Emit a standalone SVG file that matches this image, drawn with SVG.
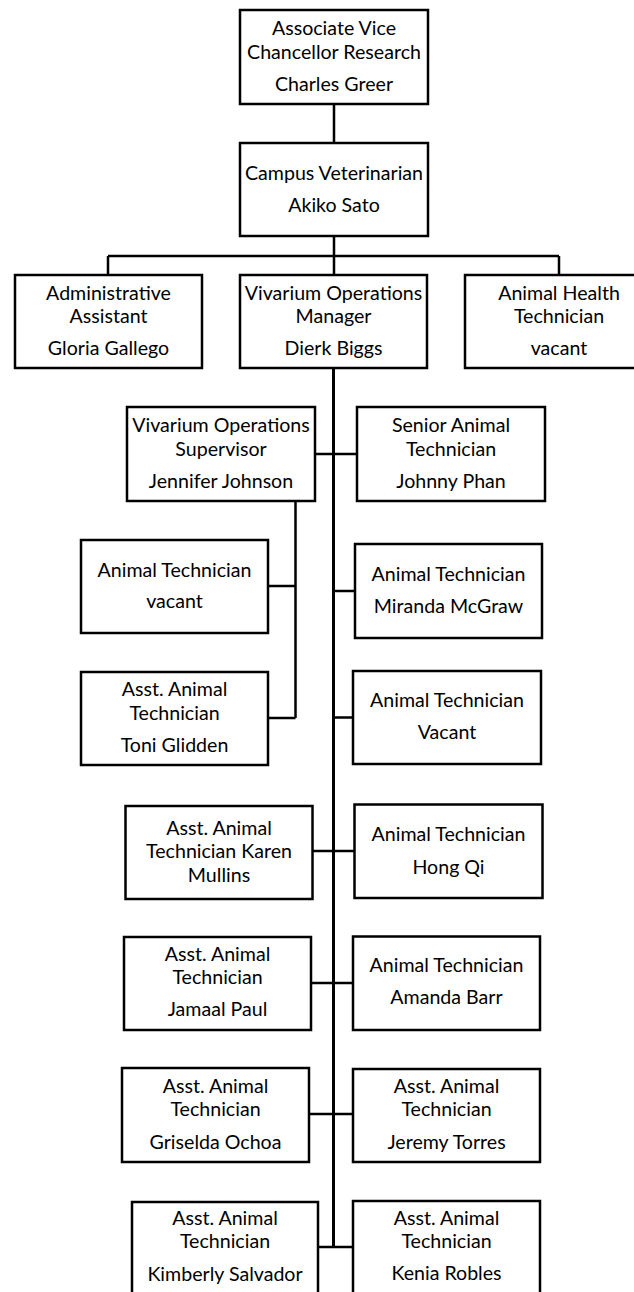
<svg xmlns="http://www.w3.org/2000/svg" width="634" height="1292" viewBox="0 0 634 1292">
<style>
.bx{fill:#fff;stroke:#000;stroke-width:2.5}
.t{font-family:Lato,"Open Sans",sans-serif;font-size:19.6px;fill:#000;text-anchor:middle}
.c{fill:none;stroke:#000;stroke-width:2.5}
</style>
<rect width="634" height="1292" fill="#fff"/>
<g id="connectors">
<path class="c" d="M334 104V143M334 236V256M108 256H559M108 256V275M559 256V275M334 256V275"/>
<path class="c" d="M333.5 368V1248" style="stroke-width:3"/>
<path class="c" d="M315 454H357M295.5 501V718M268 586H295.5M268 718H295.5M333.5 591H355M333.5 717.5H353M312.5 851H354.5M311 983H353M309 1114H353M318 1247H353"/>
</g>
<g id="n1"><rect class="bx" x="240" y="10" width="188" height="94"/><text class="t" x="334" y="35">Associate Vice</text><text class="t" x="334" y="59">Chancellor Research</text><text class="t" x="334" y="91">Charles Greer</text></g>
<g id="n2"><rect class="bx" x="240" y="143" width="188" height="93"/><text class="t" x="334" y="180">Campus Veterinarian</text><text class="t" x="334" y="212">Akiko Sato</text></g>
<g id="n3"><rect class="bx" x="15" y="275" width="187" height="93"/><text class="t" x="108.5" y="300">Administrative</text><text class="t" x="108.5" y="323">Assistant</text><text class="t" x="108.5" y="355">Gloria Gallego</text></g>
<g id="n4"><rect class="bx" x="240" y="275" width="187" height="93"/><text class="t" x="333.5" y="300">Vivarium Operations</text><text class="t" x="333.5" y="323">Manager</text><text class="t" x="333.5" y="355">Dierk Biggs</text></g>
<g id="n5"><rect class="bx" x="465" y="275" width="188" height="93"/><text class="t" x="559" y="300">Animal Health</text><text class="t" x="559" y="323">Technician</text><text class="t" x="559" y="355">vacant</text></g>
<g id="n6"><rect class="bx" x="127" y="407" width="188" height="94"/><text class="t" x="221" y="432">Vivarium Operations</text><text class="t" x="221" y="455.5">Supervisor</text><text class="t" x="221" y="488">Jennifer Johnson</text></g>
<g id="n7"><rect class="bx" x="357" y="407" width="188" height="94"/><text class="t" x="451" y="432">Senior Animal</text><text class="t" x="451" y="455.5">Technician</text><text class="t" x="451" y="488">Johnny Phan</text></g>
<g id="n8"><rect class="bx" x="81" y="540" width="187" height="93"/><text class="t" x="174.5" y="576.7">Animal Technician</text><text class="t" x="174.5" y="607.7">vacant</text></g>
<g id="n9"><rect class="bx" x="355" y="544" width="187" height="94"/><text class="t" x="448.5" y="581">Animal Technician</text><text class="t" x="448.5" y="613.3">Miranda McGraw</text></g>
<g id="n10"><rect class="bx" x="81" y="672" width="187" height="93"/><text class="t" x="174.5" y="696">Asst. Animal</text><text class="t" x="174.5" y="720">Technician</text><text class="t" x="174.5" y="751.7">Toni Glidden</text></g>
<g id="n11"><rect class="bx" x="353" y="671" width="188" height="93"/><text class="t" x="447" y="706.7">Animal Technician</text><text class="t" x="447" y="739.3">Vacant</text></g>
<g id="n12"><rect class="bx" x="125.5" y="806" width="187" height="93"/><text class="t" x="219" y="834.7">Asst. Animal</text><text class="t" x="219" y="858.4">Technician Karen</text><text class="t" x="219" y="881.5">Mullins</text></g>
<g id="n13"><rect class="bx" x="354.5" y="804.5" width="188" height="93.5"/><text class="t" x="448.5" y="840.8">Animal Technician</text><text class="t" x="448.5" y="873.7">Hong Qi</text></g>
<g id="n14"><rect class="bx" x="124" y="937" width="187" height="93"/><text class="t" x="217.5" y="961">Asst. Animal</text><text class="t" x="217.5" y="984">Technician</text><text class="t" x="217.5" y="1016">Jamaal Paul</text></g>
<g id="n15"><rect class="bx" x="353" y="936.5" width="187" height="93.5"/><text class="t" x="446.5" y="972">Animal Technician</text><text class="t" x="446.5" y="1004">Amanda Barr</text></g>
<g id="n16"><rect class="bx" x="122" y="1068" width="187" height="94"/><text class="t" x="215.5" y="1092.5">Asst. Animal</text><text class="t" x="215.5" y="1115.6">Technician</text><text class="t" x="215.5" y="1148.5">Griselda Ochoa</text></g>
<g id="n17"><rect class="bx" x="353" y="1069" width="187" height="93"/><text class="t" x="446.5" y="1092.5">Asst. Animal</text><text class="t" x="446.5" y="1115.6">Technician</text><text class="t" x="446.5" y="1148.5">Jeremy Torres</text></g>
<g id="n18"><rect class="bx" x="132" y="1202" width="186" height="100"/><text class="t" x="225" y="1225">Asst. Animal</text><text class="t" x="225" y="1248.3">Technician</text><text class="t" x="225" y="1280.7">Kimberly Salvador</text></g>
<g id="n19"><rect class="bx" x="353" y="1201" width="187" height="100"/><text class="t" x="446.5" y="1225">Asst. Animal</text><text class="t" x="446.5" y="1248">Technician</text><text class="t" x="446.5" y="1280">Kenia Robles</text></g>
</svg>
